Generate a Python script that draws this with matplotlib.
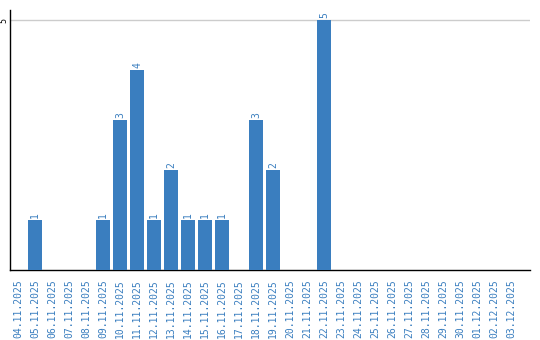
import matplotlib.pyplot as plt
import numpy as np

# 数据
dates = ['04.11.2025', '05.11.2025', '06.11.2025', '07.11.2025', '08.11.2025',
         '09.11.2025', '10.11.2025', '11.11.2025', '12.11.2025', '13.11.2025',
         '14.11.2025', '15.11.2025', '16.11.2025', '17.11.2025', '18.11.2025',
         '19.11.2025', '20.11.2025', '21.11.2025', '22.11.2025', '23.11.2025',
         '24.11.2025', '25.11.2025', '26.11.2025', '27.11.2025', '28.11.2025',
         '29.11.2025', '30.11.2025', '01.12.2025', '02.12.2025', '03.12.2025']
counts = [0, 1, 0, 0, 0, 1, 3, 4, 1, 2, 1, 1, 1, 0, 3,
          2, 0, 0, 5, 0, 0, 0, 0, 0, 0, 0, 0, 0, 0, 0]

blue = '#3a7ebf'

fig = plt.figure(figsize=(5.4, 3.4), dpi=100)
ax = fig.add_axes([10 / 540, 70 / 340, 520 / 540, 260 / 340])

x = np.arange(len(dates))
bars = ax.bar(x, counts, width=0.82, color=blue, zorder=3)

# 柱顶标签（0 不显示）
for xi, c in zip(x, counts):
    if c > 0:
        ax.text(xi, c + 0.04, str(c), rotation=90, ha='center', va='bottom',
                color=blue, fontsize=7, family='DejaVu Sans Mono')

ax.set_xlim(-0.47, len(dates) + 0.1)
ax.set_ylim(0, 5.2)
ax.set_yticks([5])
ax.set_yticklabels(['5'], rotation=90, va='center', fontsize=6,
                   family='DejaVu Sans Mono')
ax.yaxis.grid(True, color='#cccccc', linewidth=1, zorder=0)
ax.tick_params(axis='y', length=0, pad=1)

ax.set_xticks(x)
ax.set_xticklabels(dates, rotation=90, fontsize=7, color=blue,
                   family='DejaVu Sans Mono')
ax.tick_params(axis='x', length=0, pad=7)

for s in ['top', 'right']:
    ax.spines[s].set_visible(False)
ax.spines['left'].set_linewidth(1)
ax.spines['bottom'].set_linewidth(1)

fig.savefig('out.png', dpi=100)
